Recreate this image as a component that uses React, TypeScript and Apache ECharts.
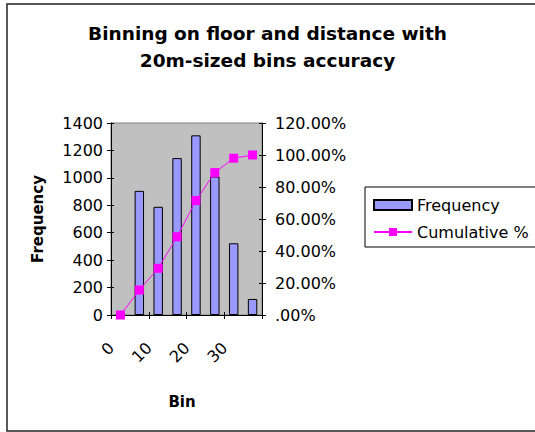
import React, { useEffect, useRef } from "react";
import * as echarts from "echarts";

// Histogram bins (upper bound of each bin)
const bins = ["0", "5", "10", "15", "20", "25", "30", "35"];
// Number of samples falling in each bin
const frequency = [0, 905, 789, 1144, 1310, 1010, 523, 117];
// Running share of samples, in percent
const cumulativePct = [0, 15.6, 29.2, 48.9, 71.5, 89.0, 98.0, 100.0];

const FONT = "'DejaVu Sans', Arial, sans-serif";
const LABEL_SIZE = 16;

export default function App() {
  const ref = useRef<HTMLDivElement>(null);

  useEffect(() => {
    if (!ref.current) return;
    const chart = echarts.init(ref.current, undefined, { renderer: "svg" });

    const tickOut = { show: true, length: 4, lineStyle: { color: "#000", width: 1 } };
    const tickIn = { show: true, inside: true, length: 3, lineStyle: { color: "#000", width: 1 } };

    chart.setOption({
      animation: false,
      backgroundColor: "#fff",
      textStyle: { fontFamily: FONT, color: "#000" },
      title: {
        text: "Binning on floor and distance with\n20m-sized bins accuracy",
        left: "center",
        top: 15,
        textStyle: {
          fontFamily: FONT,
          fontSize: 18.5,
          fontWeight: "bold",
          color: "#000",
          lineHeight: 27,
        },
      },
      graphic: [
        {
          type: "rect",
          shape: { x: 7, y: 4, width: 560, height: 427 },
          style: { fill: "none", stroke: "#222", lineWidth: 1.5 },
          silent: true,
          z: -10,
        },
      ],
      legend: {
        orient: "vertical",
        left: 365,
        top: 187,
        padding: [10, 8, 7, 8],
        itemWidth: 38,
        itemHeight: 10,
        itemGap: 11,
        borderColor: "#000",
        borderWidth: 1,
        backgroundColor: "#fff",
        textStyle: { fontFamily: FONT, fontSize: LABEL_SIZE, color: "#000" },
        data: [{ name: "Frequency", icon: "rect" }, { name: "Cumulative %" }],
      },
      grid: {
        left: 111,
        top: 123,
        right: 273,
        bottom: 117,
        show: true,
        backgroundColor: "#C0C0C0",
        borderColor: "#808080",
        borderWidth: 1,
      },
      xAxis: [
        {
          type: "category",
          data: bins,
          position: "bottom",
          name: "Bin",
          nameLocation: "middle",
          nameGap: 79,
          nameTextStyle: {
            fontFamily: FONT,
            fontSize: 15,
            fontWeight: "bold",
            color: "#000",
            padding: [0, 9, 0, 0],
          },
          axisLine: { lineStyle: { color: "#000", width: 1 } },
          axisTick: tickOut,
          axisLabel: {
            interval: 1,
            rotate: 45,
            margin: 21,
            padding: [0, 13, 0, 0],
            fontFamily: FONT,
            fontSize: LABEL_SIZE,
            color: "#000",
          },
        },
        {
          type: "category",
          data: bins,
          position: "bottom",
          axisLine: { show: false },
          axisTick: tickIn,
          axisLabel: { show: false },
        },
      ],
      yAxis: [
        {
          type: "value",
          position: "left",
          min: 0,
          max: 1400,
          interval: 200,
          name: "Frequency",
          nameLocation: "middle",
          nameGap: 66,
          nameTextStyle: { fontFamily: FONT, fontSize: 15, fontWeight: "bold", color: "#000" },
          axisLine: { show: true, lineStyle: { color: "#000", width: 1 } },
          axisTick: tickOut,
          axisLabel: {
            margin: 8,
            fontFamily: FONT,
            fontSize: LABEL_SIZE,
            color: "#000",
            formatter: (v: number) => String(v),
          },
          splitLine: { show: false },
        },
        {
          type: "value",
          position: "right",
          min: 0,
          max: 120,
          interval: 20,
          axisLine: { show: true, lineStyle: { color: "#000", width: 1 } },
          axisTick: tickOut,
          axisLabel: {
            margin: 13,
            fontFamily: FONT,
            fontSize: LABEL_SIZE,
            color: "#000",
            formatter: (v: number) => (v === 0 ? ".00%" : v.toFixed(2) + "%"),
          },
          splitLine: { show: false },
        },
        {
          type: "value",
          position: "left",
          min: 0,
          max: 1400,
          interval: 200,
          axisLine: { show: false },
          axisTick: tickIn,
          axisLabel: { show: false },
          splitLine: { show: false },
        },
        {
          type: "value",
          position: "right",
          min: 0,
          max: 120,
          interval: 20,
          axisLine: { show: false },
          axisTick: tickIn,
          axisLabel: { show: false },
          splitLine: { show: false },
        },
      ],
      series: [
        {
          name: "Frequency",
          type: "bar",
          xAxisIndex: 0,
          yAxisIndex: 0,
          data: frequency,
          barWidth: "50%",
          itemStyle: { color: "#9999FF", borderColor: "#000", borderWidth: 1 },
        },
        {
          name: "Cumulative %",
          type: "line",
          xAxisIndex: 0,
          yAxisIndex: 1,
          data: cumulativePct,
          symbol: "rect",
          symbolSize: 9,
          lineStyle: { color: "#FF00FF", width: 1 },
          itemStyle: { color: "#FF00FF" },
          z: 3,
        },
      ],
    });

    return () => chart.dispose();
  }, []);

  return (
    <div
      ref={ref}
      style={{ position: "fixed", left: 0, top: 0, width: 535, height: 432 }}
    />
  );
}
